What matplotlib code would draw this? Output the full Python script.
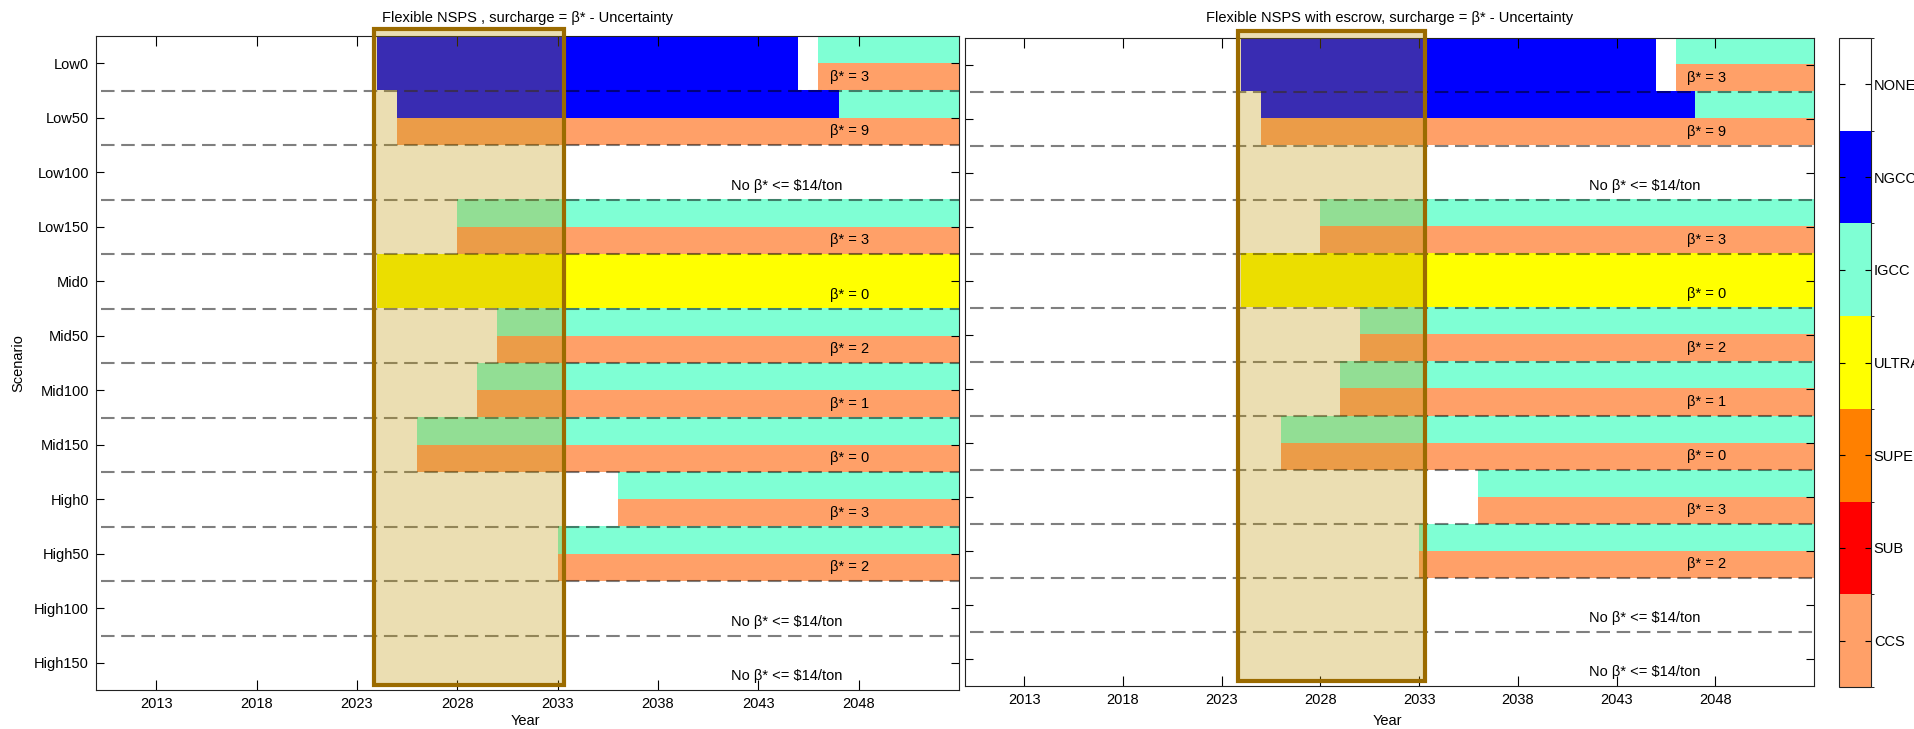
import numpy as np
import matplotlib
import matplotlib.pyplot as plt
from matplotlib.colors import ListedColormap, BoundaryNorm
from matplotlib.patches import Rectangle

plt.rcParams['font.family'] = ['Liberation Sans', 'DejaVu Sans']
plt.rcParams['font.size'] = 10.5

# technologies in colour-index order (bottom of the colour bar first)
techs = ['CCS', 'SUB', 'SUPER', 'ULTRA', 'IGCC', 'NGCC', 'NONE']
tech_colors = ['#ffa068', '#ff0000', '#ff8000', '#ffff00', '#7fffd4', '#0000ff', '#ffffff']

scenarios = ['Low0', 'Low50', 'Low100', 'Low150', 'Mid0', 'Mid50', 'Mid100', 'Mid150',
             'High0', 'High50', 'High100', 'High150']
years = np.arange(2010, 2053)          # one cell per year
year_ticks = np.arange(2013, 2049, 5)

# build-out per scenario as (technology, first year, end year); anything not listed is NONE
# upper half of each scenario row = new plant, lower half = retrofit
upper_plan = [
    [('NGCC', 2024, 2045), ('IGCC', 2046, 2053)],
    [('NGCC', 2025, 2047), ('IGCC', 2047, 2053)],
    [],
    [('IGCC', 2028, 2053)],
    [('ULTRA', 2024, 2053)],
    [('IGCC', 2030, 2053)],
    [('IGCC', 2029, 2053)],
    [('IGCC', 2026, 2053)],
    [('IGCC', 2036, 2053)],
    [('IGCC', 2033, 2053)],
    [],
    [],
]
lower_plan = [
    [('NGCC', 2024, 2045), ('CCS', 2046, 2053)],
    [('CCS', 2025, 2053)],
    [],
    [('CCS', 2028, 2053)],
    [('ULTRA', 2024, 2053)],
    [('CCS', 2030, 2053)],
    [('CCS', 2029, 2053)],
    [('CCS', 2026, 2053)],
    [('CCS', 2036, 2053)],
    [('CCS', 2033, 2053)],
    [],
    [],
]
beta_text = ['β* = 3', 'β* = 9', 'No β* <= $14/ton', 'β* = 3', 'β* = 0', 'β* = 2',
             'β* = 1', 'β* = 0', 'β* = 3', 'β* = 2', 'No β* <= $14/ton', 'No β* <= $14/ton']

# uncertainty window highlighted on both plots
window_start, window_end = 2023.85, 2033.3

# the escrow variant ends up with the same build-out
panels = [
    ('Flexible NSPS , surcharge = β* - Uncertainty', upper_plan, lower_plan, beta_text),
    ('Flexible NSPS with escrow, surcharge = β* - Uncertainty', upper_plan, lower_plan, beta_text),
]


def plan_grid(upper, lower):
    grid = np.full((2 * len(scenarios), len(years)), techs.index('NONE'))
    for i, (up, lo) in enumerate(zip(upper, lower)):
        for row, plan in ((2 * i, up), (2 * i + 1, lo)):
            for tech, y0, y1 in plan:
                grid[row, (years >= y0) & (years < y1)] = techs.index(tech)
    return grid


cmap = ListedColormap(tech_colors)
norm = BoundaryNorm(np.arange(-0.5, len(techs) + 0.5), len(techs))

W, H = 1915, 729
fig = plt.figure(figsize=(W / 100, H / 100), dpi=100)


def px_axes(x0, y0, x1, y1):
    return fig.add_axes([x0 / W, 1 - y1 / H, (x1 - x0) / W, (y1 - y0) / H])


axes = [px_axes(96, 36, 959, 690), px_axes(965, 37.7, 1814, 686)]
n = len(scenarios)

for k, (ax, (title, up, lo, btxt)) in enumerate(zip(axes, panels)):
    grid = plan_grid(up, lo)
    ax.imshow(grid, cmap=cmap, norm=norm, aspect='auto', interpolation='nearest',
              extent=(years[0], years[-1] + 1, n + 0.5, 0.5), origin='upper', zorder=0)
    ax.set_xlim(years[0], years[-1] + 1)
    ax.set_ylim(n + 0.5, 0.5)

    # scenario separators
    ax.hlines(np.arange(1.5, n), years[0] + 0.25, years[-1] + 1, colors='k', alpha=0.5,
              linewidth=1.5, linestyles=(0, (6.5, 3.2)), zorder=1)

    ax.add_patch(Rectangle((window_start, 0.37), window_end - window_start, 12.03,
                           facecolor=(0.753, 0.58, 0.0, 0.3), edgecolor='#9b6b00',
                           linewidth=3, clip_on=False, zorder=3))

    for i, t in enumerate(btxt):
        xt = 2044.4 if t.startswith('No') else 2047.55
        ax.text(xt, i + 1.25, t, ha='center', va='center', zorder=4)

    ax.set_xticks(year_ticks)
    ax.set_xticklabels([str(y) for y in year_ticks])
    ax.set_yticks(np.arange(1, n + 1))
    ax.set_yticklabels(scenarios if k == 0 else [])
    ax.tick_params(axis='both', direction='in', top=True, right=True, width=0.8, color='k')
    ax.tick_params(axis='x', length=7, pad=5)
    ax.tick_params(axis='y', length=6, pad=5)
    for sp in ax.spines.values():
        sp.set_linewidth(0.8)
        sp.set_color('#222222')

    x0, x1 = (96, 959) if k == 0 else (965, 1814)
    fig.text((x0 + x1) / 2 / W, 1 - 18 / H, title, ha='center', va='center')
    fig.text((x0 + x1) / 2 / W - 2 / W, 1 - 721 / H, 'Year', ha='center', va='center')

fig.text(18 / W, 1 - 363 / H, 'Scenario', ha='center', va='center', rotation=90)

# technology colour bar
cax = px_axes(1839, 38, 1871, 687)
cb = fig.colorbar(matplotlib.cm.ScalarMappable(norm=norm, cmap=cmap), cax=cax,
                  ticks=np.arange(len(techs)))
cb.set_ticklabels(techs)
cax.tick_params(direction='in', left=True, right=True, length=4.5, width=0.8, pad=2)
cb.outline.set_linewidth(0.8)
cb.outline.set_edgecolor('#222222')

fig.savefig('out.png', dpi=100)
